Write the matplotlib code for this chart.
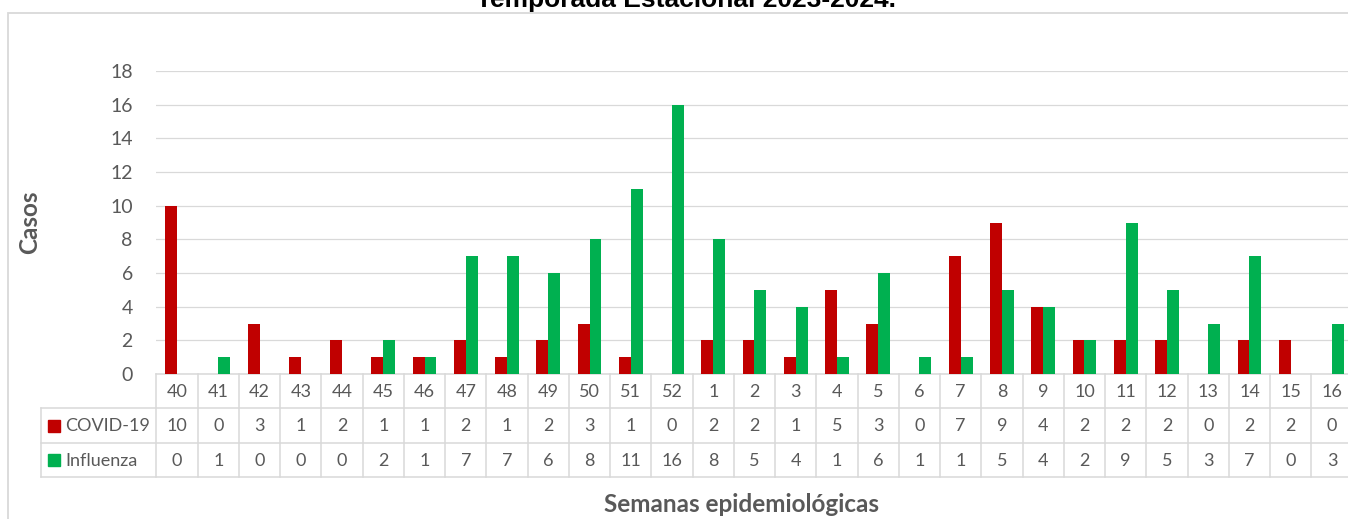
import matplotlib
matplotlib.use('Agg')
import matplotlib.pyplot as plt
from matplotlib.patches import Rectangle
import numpy as np

weeks = ['40', '41', '42', '43', '44', '45', '46', '47', '48', '49', '50', '51', '52',
         '1', '2', '3', '4', '5', '6', '7', '8', '9', '10', '11', '12', '13', '14', '15', '16']
covid = [10, 0, 3, 1, 2, 1, 1, 2, 1, 2, 3, 1, 0, 2, 2, 1, 5, 3, 0, 7, 9, 4, 2, 2, 2, 0, 2, 2, 0]
flu = [0, 1, 0, 0, 0, 2, 1, 7, 7, 6, 8, 11, 16, 8, 5, 4, 1, 6, 1, 1, 5, 4, 2, 9, 5, 3, 7, 0, 3]
series_names = ['COVID-19', 'Influenza']
colors = ['#C00000', '#00B050']
yticks = [0, 2, 4, 6, 8, 10, 12, 14, 16, 18]
title = 'Temporada Estacional 2023-2024.'

W, H = 1348, 519
GRID = '#D9D9D9'
TXT = '#595959'
FONT = 'Lato'

fig = plt.figure(figsize=(W / 100, H / 100), dpi=100)


def fx(px):
    return px / W


def fy(py):
    return 1 - py / H


left_px, right_px = 156.4, 1352.6
top_px, zero_px = 71, 374
ncat = len(weeks)
cw = (right_px - left_px) / ncat

# outer chart border
fig.add_artist(Rectangle((fx(8), fy(H + 20)), fx(W + 40), fy(12.5) - fy(H + 20),
                         transform=fig.transFigure, fill=False, edgecolor=GRID, lw=1.3))

fig.text(fx(686), fy(6.5), title, ha='center', va='baseline', fontsize=19,
         fontweight='bold', family='Liberation Sans', color='black')

ax = fig.add_axes([fx(left_px), fy(zero_px), fx(right_px - left_px), fy(top_px) - fy(zero_px)])
x = np.arange(ncat)
w = 0.29
ax.bar(x - w / 2, covid, w, color=colors[0], zorder=3)
ax.bar(x + w / 2, flu, w, color=colors[1], zorder=3)
ax.set_xlim(-0.5, ncat - 0.5)
ax.set_ylim(0, 18)
ax.set_yticks(yticks)
ax.set_yticklabels([str(t) for t in yticks], fontsize=14, color=TXT, family=FONT)
ax.tick_params(axis='y', length=0, pad=17)
ax.set_xticks([])
ax.grid(axis='y', color=GRID, lw=0.9, zorder=0)
for s in ['top', 'right', 'left']:
    ax.spines[s].set_visible(False)
ax.spines['bottom'].set_color(GRID)
ax.spines['bottom'].set_linewidth(1.1)

# data table
tleft_px, tbot_px = 41, 477
tax = fig.add_axes([fx(tleft_px), fy(tbot_px), fx(right_px - tleft_px), fy(zero_px) - fy(tbot_px)])
xl = -0.5 - (left_px - tleft_px) / cw
tax.set_xlim(xl, ncat - 0.5)
tax.set_ylim(3, 0)
tax.axis('off')
lk = dict(color=GRID, lw=1.1, clip_on=False)
for yy in [1, 2, 3]:
    tax.plot([xl, ncat - 0.5], [yy, yy], **lk)
for k in range(ncat + 1):
    tax.plot([k - 0.5, k - 0.5], [0, 3], **lk)
tax.plot([xl, xl], [1, 3], **lk)

for i in range(ncat):
    tax.text(i, 0.52, weeks[i], ha='center', va='center', fontsize=13, color=TXT, family=FONT)
    tax.text(i, 1.52, str(covid[i]), ha='center', va='center', fontsize=13, color=TXT, family=FONT)
    tax.text(i, 2.52, str(flu[i]), ha='center', va='center', fontsize=13, color=TXT, family=FONT)

sq = 12 / cw
for r, (nm, c) in enumerate(zip(series_names, colors)):
    tax.add_patch(Rectangle((xl + 7 / cw, 1.5 + r - 0.17), sq, 0.35, color=c, clip_on=False))
    tax.text(xl + 24 / cw, 1.52 + r, nm, ha='left', va='center', fontsize=13, color=TXT, family=FONT)

fig.text(fx(30), fy(222), 'Casos', rotation=90, ha='center', va='center', fontsize=17.5,
         fontweight='bold', color=TXT, family=FONT)
fig.text(fx(741), fy(504), 'Semanas epidemiológicas', ha='center', va='center', fontsize=17.5,
         fontweight='bold', color=TXT, family=FONT)

fig.savefig('out.png', dpi=100)
